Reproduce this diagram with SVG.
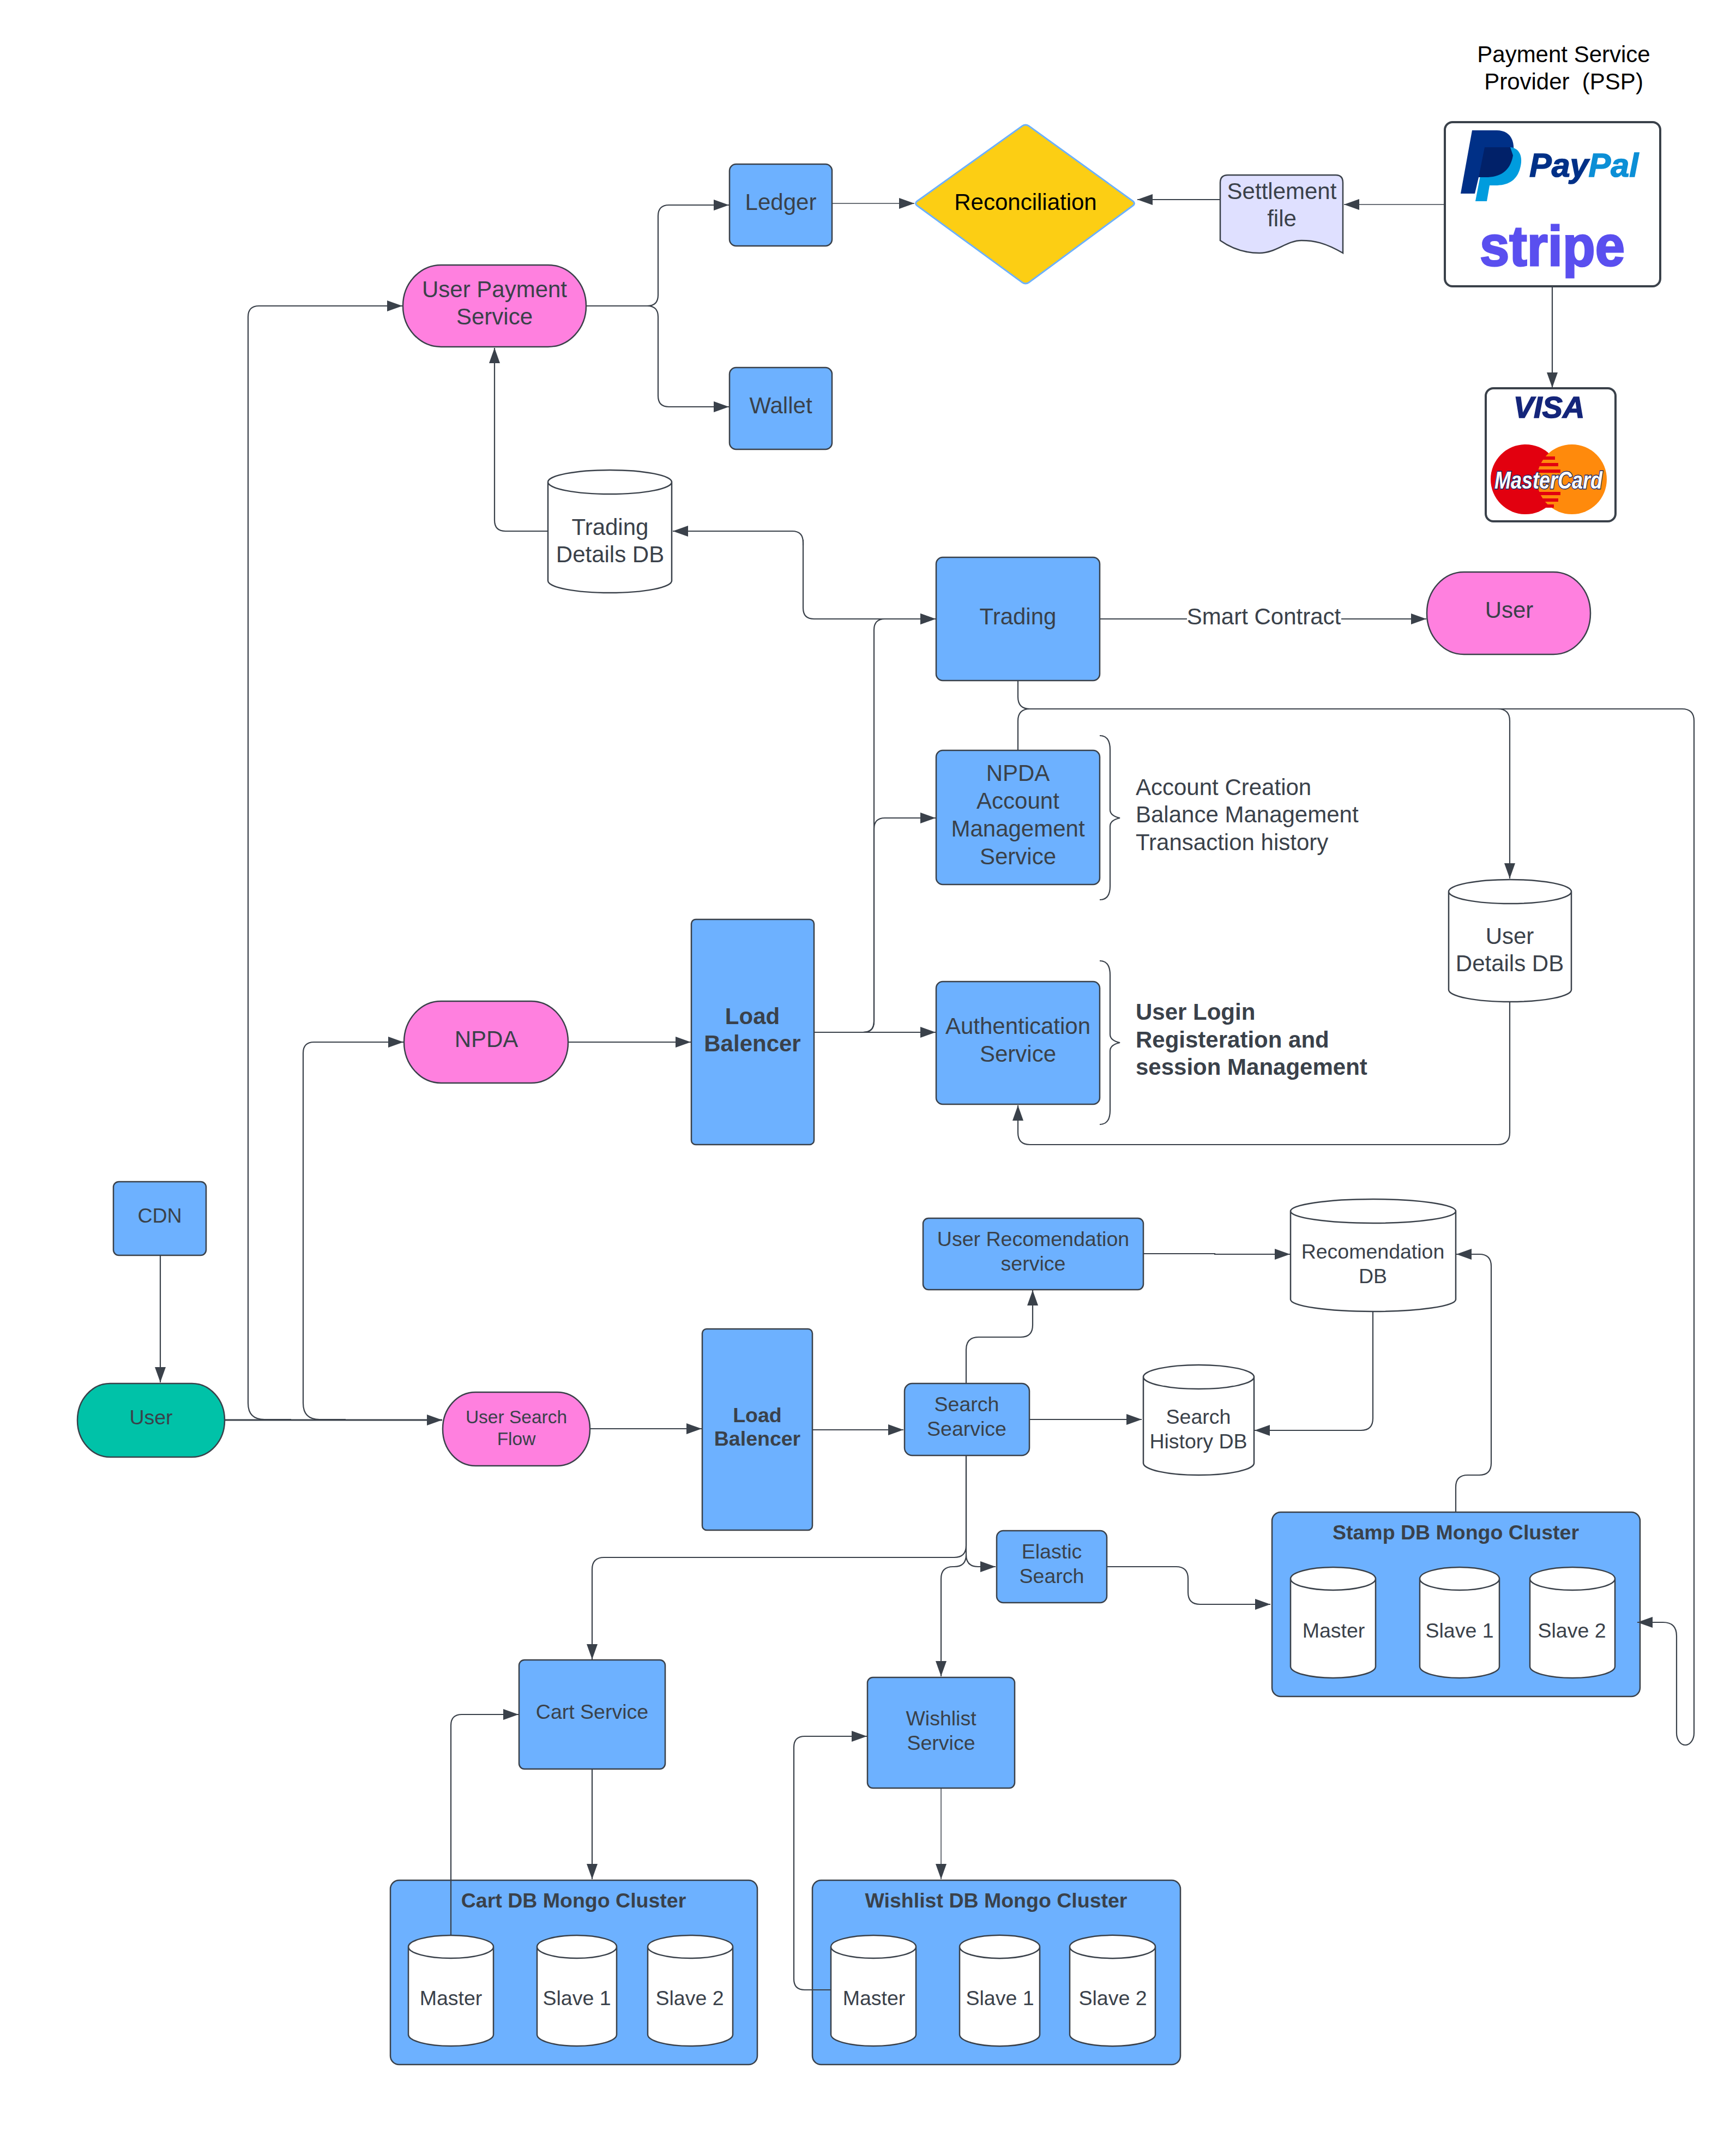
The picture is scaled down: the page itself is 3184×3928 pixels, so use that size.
<svg xmlns="http://www.w3.org/2000/svg" width="3184" height="3928" viewBox="0 0 3184 3928">
<style>
text{font-family:"Liberation Sans",Arial,sans-serif;fill:#3a414a;text-anchor:middle}
.f42{font-size:42px}.f37{font-size:37.500px}
.b{font-weight:bold}
.l{text-anchor:start}
.k{fill:#000}
.box{fill:#6db1ff;stroke:#3a414a;stroke-width:2.500}
.pink{fill:#ff80df;stroke:#3a414a;stroke-width:2.500}
.teal{fill:#00c2a8;stroke:#3a414a;stroke-width:2.500}
.card{fill:#fff;stroke:#3a414a;stroke-width:4}
.cyl{fill:#fff;stroke:#3a414a;stroke-width:2.500}
.conn{fill:none;stroke:#3a414a;stroke-width:2.200}
.a{marker-end:url(#arrow)}
.thin{stroke-width:1.500}
.thick{stroke-width:3}
</style>
<defs>
<marker id="arrow" markerUnits="userSpaceOnUse" markerWidth="29" markerHeight="20" viewBox="0 0 29 20" refX="28" refY="10" orient="auto"><path d="M0,0 L28,10 L0,20 Z" fill="#3a414a"/></marker>
</defs>
<rect width="3184" height="3928" fill="#fff"/>

<g id="psp-label"><text class="f42 k" x="2868" y="114">Payment Service</text><text class="f42 k" x="2868" y="164" xml:space="preserve">Provider  (PSP)</text></g>
<g id="psp">
<rect class="card" x="2650" y="224" width="395" height="301" rx="14"/>
<path d="M2700,239 H2745 C2770,239 2780,258 2775,285 C2770,315 2750,325 2725,325 H2712 L2705,355 H2679 Z" fill="#003087"/>
<path d="M2725,270 H2770 C2790,272 2794,292 2787,312 C2780,332 2765,340 2742,340 H2732 L2727,369 H2706 Z" fill="#009cde"/>
<path d="M2723,270 H2770 L2775,285 C2770,315 2750,325 2725,325 H2712 Z" fill="#012169"/>
<text class="b" x="2805" y="324" font-size="61" font-style="italic" style="text-anchor:start;fill:#003087;stroke:#003087;stroke-width:1.500">Pay<tspan style="fill:#0c8fd6;stroke:#0c8fd6">Pal</tspan></text>
<text class="b" x="2847" y="487" font-size="104" textLength="266" lengthAdjust="spacingAndGlyphs" style="fill:#5a4fef;stroke:#5a4fef;stroke-width:3">stripe</text>
</g>
<g id="cards">
<rect class="card" x="2725" y="712" width="238" height="244" rx="14"/>
<text class="b" x="2841" y="766" font-size="56" font-style="italic" style="fill:#14257a;stroke:#14257a;stroke-width:1.500">VISA</text>
<circle cx="2798" cy="879" r="64" fill="#e2000f"/>
<circle cx="2883" cy="879" r="64" fill="#ff8a0c"/>
<path d="M2828,840H2852M2822,852H2858M2819,864H2862M2819,905H2862M2822,917H2858M2830,928H2850" stroke="#e2000f" stroke-width="6" fill="none"/>
<text class="b" x="2840" y="896" font-size="44" font-style="italic" textLength="198" lengthAdjust="spacingAndGlyphs" style="fill:#fff;stroke:#1a2a6c;stroke-width:3;paint-order:stroke">MasterCard</text>
</g>
<g id="settlement">
<path d="M2238,335 Q2238,321 2252,321 H2450 Q2463,321 2463,335 V464 C2430,445 2410,441 2387,441 C2360,441 2340,464 2310,464 C2280,464 2255,453 2238,441 Z" fill="#dfe0ff" stroke="#3a414a" stroke-width="2.500"/>
<text class="f42" x="2351" y="365">Settlement</text><text class="f42" x="2351" y="415">file</text>
</g>
<g id="reconciliation">
<path d="M1682,377 Q1677,373 1682,369 L1875,231 Q1881,227 1887,231 L2078,369 Q2083,373 2078,377 L1887,518 Q1881,522 1875,518 Z" fill="#fcce14" stroke="#6db1ff" stroke-width="3"/>
<text class="f42 k" x="1881" y="385">Reconciliation</text>
</g>
<g id="ledger"><rect class="box" x="1338" y="301" width="188" height="150" rx="12"/><text class="f42" x="1432" y="385">Ledger</text></g>
<g id="wallet"><rect class="box" x="1338" y="674" width="188" height="150" rx="12"/><text class="f42" x="1432" y="758">Wallet</text></g>
<g id="user-payment-service"><rect class="pink" x="739" y="486" width="336" height="150" rx="70" ry="75"/><text class="f42" x="907" y="545">User Payment</text><text class="f42" x="907" y="595">Service</text></g>
<g id="trading-details-db">
<path class="cyl" d="M1005,884 A113,22 0 0 1 1232,884 V1065 A113,22 0 0 1 1005,1065 Z M1232,884 A113,22 0 0 1 1005,884"/>
<text class="f42" x="1119" y="981">Trading</text><text class="f42" x="1119" y="1031">Details DB</text>
</g>
<g id="trading"><rect class="box" x="1717" y="1022" width="300" height="226" rx="12"/><text class="f42" x="1867" y="1145">Trading</text></g>
<g id="user-right"><rect class="pink" x="2617" y="1049" width="300" height="151" rx="68" ry="75"/><text class="f42" x="2768" y="1133">User</text></g>
<g id="npda-account"><rect class="box" x="1717" y="1376" width="300" height="246" rx="12"/><text class="f42" x="1867" y="1432">NPDA</text><text class="f42" x="1867" y="1483">Account</text><text class="f42" x="1867" y="1534">Management</text><text class="f42" x="1867" y="1585">Service</text></g>
<g id="npda-brace"><path class="conn" d="M2017,1349 Q2036,1349 2036,1375 V1485 Q2036,1496 2054,1500 Q2036,1504 2036,1515 V1625 Q2036,1650 2017,1650"/>
<text class="f42 l" x="2083" y="1458">Account Creation</text><text class="f42 l" x="2083" y="1508">Balance Management</text><text class="f42 l" x="2083" y="1559">Transaction history</text></g>
<g id="authentication"><rect class="box" x="1717" y="1800" width="300" height="225" rx="12"/><text class="f42" x="1867" y="1896">Authentication</text><text class="f42" x="1867" y="1947">Service</text></g>
<g id="auth-brace"><path class="conn" d="M2017,1762 Q2036,1762 2036,1788 V1897 Q2036,1908 2054,1912 Q2036,1916 2036,1927 V2036 Q2036,2062 2017,2062"/>
<text class="f42 l b" x="2083" y="1870">User Login</text><text class="f42 l b" x="2083" y="1921">Registeration and</text><text class="f42 l b" x="2083" y="1971">session Management</text></g>
<g id="user-details-db">
<path class="cyl" d="M2657,1635 A112,22 0 0 1 2882,1635 V1815 A112,22 0 0 1 2657,1815 Z M2882,1635 A112,22 0 0 1 2657,1635"/>
<text class="f42" x="2769" y="1731">User</text><text class="f42" x="2769" y="1781">Details DB</text>
</g>
<g id="npda"><rect class="pink" x="741" y="1836" width="301" height="150" rx="68" ry="75"/><text class="f42" x="892" y="1920">NPDA</text></g>
<g id="load-balancer-top"><rect class="box" x="1268" y="1686" width="225" height="413" rx="8"/><text class="f42 b" x="1380" y="1878">Load</text><text class="f42 b" x="1380" y="1928">Balencer</text></g>
<g id="cdn"><rect class="box" x="208" y="2167" width="170" height="135" rx="10"/><text class="f37" x="293" y="2242">CDN</text></g>
<g id="user-left"><rect class="teal" x="142" y="2537" width="270" height="135" rx="60" ry="67"/><text class="f37" x="277" y="2612">User</text></g>
<g id="user-search-flow"><rect class="pink" x="812" y="2553" width="270" height="135" rx="60" ry="67"/><text x="947" y="2610" font-size="33.500">User Search</text><text x="947" y="2650" font-size="33.500">Flow</text></g>
<g id="load-balancer-bottom"><rect class="box" x="1288" y="2437" width="202" height="369" rx="8"/><text class="f37 b" x="1389" y="2608">Load</text><text class="f37 b" x="1389" y="2651">Balencer</text></g>
<g id="search-service"><rect class="box" x="1659" y="2537" width="229" height="132" rx="14"/><text class="f37" x="1773" y="2588">Search</text><text class="f37" x="1773" y="2633">Searvice</text></g>
<g id="user-recommendation"><rect class="box" x="1693" y="2234" width="404" height="131" rx="10"/><text class="f37" x="1895" y="2285">User Recomendation</text><text class="f37" x="1895" y="2330">service</text></g>
<g id="recommendation-db">
<path class="cyl" d="M2367,2221 A151,22 0 0 1 2670,2221 V2383 A151,22 0 0 1 2367,2383 Z M2670,2221 A151,22 0 0 1 2367,2221"/>
<text class="f37" x="2518" y="2308">Recomendation</text><text class="f37" x="2518" y="2353">DB</text>
</g>
<g id="search-history-db">
<path class="cyl" d="M2097,2525 A101,22 0 0 1 2300,2525 V2683 A101,22 0 0 1 2097,2683 Z M2300,2525 A101,22 0 0 1 2097,2525"/>
<text class="f37" x="2198" y="2611">Search</text><text class="f37" x="2198" y="2656">History DB</text>
</g>
<g id="elastic-search"><rect class="box" x="1828" y="2807" width="202" height="132" rx="12"/><text class="f37" x="1929" y="2858">Elastic</text><text class="f37" x="1929" y="2903">Search</text></g>
<g id="stamp-cluster">
<rect class="box" x="2333" y="2773" width="675" height="338" rx="16"/>
<text class="f37 b" x="2670" y="2823">Stamp DB Mongo Cluster</text>
<path class="cyl" d="M2367,2895 A78,21 0 0 1 2523,2895 V3056 A78,21 0 0 1 2367,3056 Z M2523,2895 A78,21 0 0 1 2367,2895"/>
<path class="cyl" d="M2604,2895 A73,21 0 0 1 2750,2895 V3056 A73,21 0 0 1 2604,3056 Z M2750,2895 A73,21 0 0 1 2604,2895"/>
<path class="cyl" d="M2806,2895 A78,21 0 0 1 2962,2895 V3056 A78,21 0 0 1 2806,3056 Z M2962,2895 A78,21 0 0 1 2806,2895"/>
<text class="f37" x="2446" y="3003">Master</text><text class="f37" x="2677" y="3003">Slave 1</text><text class="f37" x="2883" y="3003">Slave 2</text>
</g>
<g id="cart-service"><rect class="box" x="952" y="3044" width="268" height="200" rx="10"/><text class="f37" x="1086" y="3152">Cart Service</text></g>
<g id="wishlist-service"><rect class="box" x="1591" y="3076" width="270" height="203" rx="10"/><text class="f37" x="1726" y="3164">Wishlist</text><text class="f37" x="1726" y="3209">Service</text></g>
<g id="cart-cluster">
<rect class="box" x="716" y="3448" width="673" height="338" rx="16"/>
<text class="f37 b" x="1052" y="3498">Cart DB Mongo Cluster</text>
<path class="cyl" d="M749,3570 A78,21 0 0 1 905,3570 V3731 A78,21 0 0 1 749,3731 Z M905,3570 A78,21 0 0 1 749,3570"/>
<path class="cyl" d="M985,3570 A73,21 0 0 1 1131,3570 V3731 A73,21 0 0 1 985,3731 Z M1131,3570 A73,21 0 0 1 985,3570"/>
<path class="cyl" d="M1188,3570 A78,21 0 0 1 1344,3570 V3731 A78,21 0 0 1 1188,3731 Z M1344,3570 A78,21 0 0 1 1188,3570"/>
<text class="f37" x="827" y="3677">Master</text><text class="f37" x="1058" y="3677">Slave 1</text><text class="f37" x="1265" y="3677">Slave 2</text>
</g>
<g id="wishlist-cluster">
<rect class="box" x="1490" y="3448" width="675" height="338" rx="16"/>
<text class="f37 b" x="1827" y="3498">Wishlist DB Mongo Cluster</text>
<path class="cyl" d="M1524,3570 A78,21 0 0 1 1680,3570 V3731 A78,21 0 0 1 1524,3731 Z M1680,3570 A78,21 0 0 1 1524,3570"/>
<path class="cyl" d="M1760,3570 A73,21 0 0 1 1907,3570 V3731 A73,21 0 0 1 1760,3731 Z M1907,3570 A73,21 0 0 1 1760,3570"/>
<path class="cyl" d="M1962,3570 A78,21 0 0 1 2119,3570 V3731 A78,21 0 0 1 1962,3731 Z M2119,3570 A78,21 0 0 1 1962,3570"/>
<text class="f37" x="1603" y="3677">Master</text><text class="f37" x="1834" y="3677">Slave 1</text><text class="f37" x="2041" y="3677">Slave 2</text>
</g>

<g id="connectors">
<path class="conn a thin" d="M2650,375 H2465"/>
<path class="conn a" d="M2238,366 H2086"/>
<path class="conn a thin" d="M1526,373 H1677"/>
<path class="conn a" d="M2847,525 V711"/>
<path class="conn a" d="M1075,561 H1187 Q1207,561 1207,541 V396 Q1207,376 1227,376 H1337"/>
<path class="conn a" d="M1075,561 H1187 Q1207,561 1207,581 V726 Q1207,746 1227,746 H1337"/>
<path class="conn a" d="M1005,974 H927 Q907,974 907,954 V638"/>
<path class="conn a" d="M1473,1000 V995 Q1473,974 1453,974 H1234"/>
<path class="conn a" d="M1473,990 V1115 Q1473,1135 1493,1135 H1716"/>
<path class="conn a" d="M2017,1135 H2616"/>
<rect x="2177" y="1105" width="283" height="52" fill="#fff"/>
<text class="f42" x="2318" y="1145">Smart Contract</text>
<path class="conn a" d="M1493,1893 H1716"/>
<path class="conn a" d="M1493,1893 H1583 Q1603,1893 1603,1873 V1520 Q1603,1500 1623,1500 H1716"/>
<path class="conn a" d="M1493,1893 H1583 Q1603,1893 1603,1873 V1155 Q1603,1135 1623,1135 H1716"/>
<path class="conn a" d="M1042,1911 H1267"/>
<path class="conn" d="M1867,1248 V1278 Q1867,1300 1889,1300"/>
<path class="conn a" d="M1867,1376 V1322 Q1867,1300 1889,1300 H2747 Q2769,1300 2769,1322 V1611"/>
<path class="conn a" d="M1889,1300 H3085 Q3107,1300 3107,1322 V3178 A16,22 0 0 1 3075,3178 V3000 Q3075,2975 3050,2975 H3003"/>
<path class="conn a" d="M2769,1837 V2077 Q2769,2099 2747,2099 H1889 Q1867,2099 1867,2077 V2027"/>
<path class="conn a" d="M294,2302 V2535"/>
<path class="conn a thick" d="M412,2604 H811"/>
<path class="conn" d="M534,2603 H485 Q455,2603 455,2573 V581 Q455,561 475,561 H720"/>
<path class="conn a" d="M720,561 H738"/>
<path class="conn" d="M634,2603 H586 Q556,2603 556,2573 V1931 Q556,1911 576,1911 H720"/>
<path class="conn a" d="M720,1911 H740"/>
<path class="conn a" d="M1082,2620 H1287"/>
<path class="conn a" d="M1490,2622 H1657"/>
<path class="conn a" d="M1772,2537 V2475 Q1772,2452 1795,2452 H1872 Q1894,2452 1894,2430 V2366"/>
<path class="conn a" d="M1888,2603 H2094"/>
<path class="conn a" d="M2097,2299 L2228,2299 V2300 H2366"/>
<path class="conn a" d="M2518,2405 V2601 Q2518,2623 2496,2623 H2301"/>
<path class="conn a" d="M2670,2773 V2727 Q2670,2705 2692,2705 H2713 Q2735,2705 2735,2683 V2322 Q2735,2300 2713,2300 H2671"/>
<path class="conn a" d="M1772,2669 V2834 Q1772,2856 1750,2856 H1108 Q1086,2856 1086,2878 V3043"/>
<path class="conn a" d="M1772,2669 V2851 Q1772,2873 1794,2873 H1826"/>
<path class="conn a" d="M1772,2851 Q1772,2873 1750,2873 H1748 Q1726,2873 1726,2895 V3074"/>
<path class="conn a" d="M2030,2873 H2157 Q2179,2873 2179,2895 V2920 Q2179,2942 2201,2942 H2330"/>
<path class="conn a" d="M1086,3244 V3446"/>
<path class="conn a thin" d="M1726,3279 V3446"/>
<path class="conn a" d="M827,3549 V3164 Q827,3144 847,3144 H951"/>
<path class="conn a" d="M1524,3649 H1476 Q1456,3649 1456,3629 V3204 Q1456,3184 1476,3184 H1590"/>
</g>
</svg>
